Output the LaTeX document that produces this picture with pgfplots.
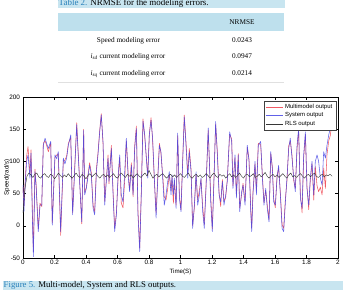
\documentclass[border=0pt]{standalone}
\usepackage{fontspec}
\setmainfont{Liberation Serif}
\setsansfont{Liberation Sans}
\usepackage{pgfplots}
\pgfplotsset{compat=1.18}
\usepackage{pgfplotstable}

\definecolor{capband}{RGB}{200,229,240}
\definecolor{capblue}{RGB}{40,128,186}
\definecolor{hdrband}{RGB}{190,224,237}
\definecolor{mmred}{RGB}{240,90,100}
\definecolor{sysblue}{RGB}{70,70,228}
\definecolor{rlsgray}{RGB}{55,55,55}

% time, system output, multi-model output (rad/s)
\pgfplotstableread{
t sys mm
0.000 63 60
0.006 22 30
0.015 70 75
0.023 100 108
0.032 110 123
0.044 74 80
0.051 113 118
0.061 -4 5
0.066 -48 -40
0.076 84 88
0.083 63 66
0.097 -9 -5
0.108 32 35
0.119 32 30
0.129 125 128
0.140 136 132
0.150 128 125
0.161 120 115
0.176 131 128
0.186 1 5
0.203 110 106
0.214 104 110
0.224 115 112
0.239 -9 -15
0.256 105 100
0.266 96 102
0.277 105 108
0.288 125 128
0.303 141 137
0.315 17 20
0.326 74 78
0.341 157 160
0.356 84 88
0.373 6 3
0.385 148 150
0.392 48 52
0.402 58 60
0.423 94 98
0.434 79 82
0.445 27 32
0.455 17 22
0.466 84 88
0.476 110 113
0.487 146 148
0.497 172 174
0.508 131 128
0.519 32 38
0.529 69 72
0.540 105 110
0.546 69 65
0.561 120 125
0.572 48 52
0.582 -9 -4
0.593 17 20
0.603 74 70
0.614 110 106
0.624 48 35
0.635 37 28
0.646 84 72
0.656 136 132
0.667 79 84
0.677 53 56
0.688 94 98
0.699 48 45
0.709 120 124
0.720 151 155
0.730 17 24
0.741 -40 -35
0.751 48 52
0.762 162 166
0.773 141 138
0.792 74 78
0.802 141 143
0.813 164 168
0.823 136 132
0.834 74 70
0.845 12 20
0.855 69 72
0.866 125 128
0.876 115 112
0.887 74 78
0.897 32 45
0.908 48 40
0.919 69 58
0.929 84 80
0.940 48 55
0.946 79 75
0.955 48 35
0.961 74 70
0.972 27 32
0.982 144 140
0.993 43 48
1.003 22 25
1.014 100 104
1.024 169 172
1.035 125 130
1.046 74 80
1.056 115 120
1.067 84 88
1.077 -4 0
1.088 32 28
1.099 84 80
1.109 32 40
1.120 48 55
1.130 74 72
1.141 22 30
1.151 -4 2
1.162 58 62
1.176 152 148
1.192 37 45
1.202 -9 -5
1.213 74 78
1.223 162 158
1.234 110 115
1.245 48 52
1.255 37 30
1.266 69 72
1.276 32 38
1.287 48 44
1.297 69 72
1.312 146 142
1.325 131 135
1.333 58 62
1.346 110 106
1.355 43 48
1.367 110 112
1.376 22 28
1.388 53 48
1.397 63 66
1.410 32 38
1.424 125 122
1.435 100 104
1.446 22 26
1.452 -9 -4
1.460 48 52
1.473 100 96
1.482 48 54
1.494 125 128
1.509 131 126
1.520 74 78
1.530 32 36
1.541 58 55
1.551 27 32
1.562 6 10
1.573 115 112
1.583 89 92
1.592 37 42
1.602 32 28
1.613 74 78
1.623 94 90
1.634 48 52
1.645 -4 2
1.655 -9 -4
1.666 37 42
1.676 74 70
1.687 120 124
1.697 136 132
1.708 105 110
1.719 74 70
1.729 53 58
1.740 125 120
1.750 151 148
1.761 43 50
1.772 27 20
1.782 110 105
1.793 146 142
1.803 58 62
1.814 32 25
1.824 74 70
1.835 100 96
1.846 48 40
1.856 100 92
1.867 110 62
1.877 100 53
1.888 74 60
1.899 63 48
1.909 115 90
1.920 105 58
1.930 125 110
1.941 141 132
1.951 151 140
1.962 172 162
1.972 165 158
}\speedtable

% RLS estimate (rad/s)
\pgfplotstableread{
t rls
0.0000 20
0.0125 58
0.0250 77
0.0375 82
0.0500 79
0.0625 75
0.0750 80
0.0875 82
0.1000 76
0.1125 74
0.1250 79
0.1375 81
0.1500 77
0.1625 75
0.1750 80
0.1875 78
0.2000 73
0.2125 77
0.2250 82
0.2375 78
0.2500 75
0.2625 79
0.2750 76
0.2875 81
0.3000 77
0.3125 74
0.3250 78
0.3375 82
0.3500 77
0.3625 75
0.3750 80
0.3875 77
0.4000 73
0.4125 78
0.4250 81
0.4375 76
0.4500 79
0.4625 82
0.4750 77
0.4875 74
0.5000 78
0.5125 80
0.5250 76
0.5375 79
0.5500 75
0.5625 78
0.5750 81
0.5875 76
0.6000 74
0.6125 79
0.6250 82
0.6375 78
0.6500 75
0.6625 80
0.6750 77
0.6875 79
0.7000 74
0.7125 78
0.7250 81
0.7375 77
0.7500 75
0.7625 79
0.7750 82
0.7875 77
0.8000 86
0.8125 80
0.8250 74
0.8375 78
0.8500 80
0.8625 76
0.8750 79
0.8875 81
0.9000 77
0.9125 74
0.9250 78
0.9375 80
0.9500 76
0.9625 79
0.9750 75
0.9875 78
1.0000 81
1.0125 77
1.0250 75
1.0375 79
1.0500 82
1.0625 76
1.0750 74
1.0875 78
1.1000 80
1.1125 76
1.1250 79
1.1375 75
1.1500 77
1.1625 81
1.1750 78
1.1875 74
1.2000 79
1.2125 82
1.2250 77
1.2375 75
1.2500 80
1.2625 77
1.2750 79
1.2875 74
1.3000 78
1.3125 81
1.3250 76
1.3375 79
1.3500 75
1.3625 78
1.3750 82
1.3875 77
1.4000 74
1.4125 79
1.4250 80
1.4375 76
1.4500 78
1.4625 81
1.4750 75
1.4875 77
1.5000 80
1.5125 76
1.5250 79
1.5375 83
1.5500 77
1.5625 74
1.5750 78
1.5875 80
1.6000 76
1.6125 79
1.6250 75
1.6375 78
1.6500 81
1.6625 77
1.6750 74
1.6875 79
1.7000 82
1.7125 76
1.7250 78
1.7375 75
1.7500 79
1.7625 81
1.7750 77
1.7875 74
1.8000 78
1.8125 80
1.8250 76
1.8375 79
1.8500 82
1.8625 77
1.8750 75
1.8875 78
1.9000 80
1.9125 76
1.9250 79
1.9375 78
1.9500 80
1.9625 77
}\rlstable

\begin{document}
\begin{tikzpicture}
\useasboundingbox (0,0) rectangle (351bp,-290bp);

% ---- Table 2 ----
\fill[capband] (58bp,0bp) rectangle (285bp,-7.5bp);
\node[anchor=base west, inner sep=0pt, font=\fontsize{9}{10}\selectfont]
  at (58.5bp,-5.8bp) {\textcolor{capblue}{Table 2.} NRMSE for the modeling errors.};
\fill[hdrband] (58bp,-13.3bp) rectangle (284bp,-30.7bp);
\begin{scope}[every node/.style={font=\fontsize{7.3}{8}\selectfont, inner sep=0pt, anchor=base}]
\node at (242bp,-24.3bp) {NRMSE};
\node at (128.5bp,-42bp) {Speed modeling error};
\node at (242bp,-42bp) {0.0243};
\node at (128bp,-58.6bp) {\textit{i}\textsubscript{\itshape sd} current modeling error};
\node at (242bp,-58.6bp) {0.0947};
\node at (128bp,-75.2bp) {\textit{i}\textsubscript{\itshape sq} current modeling error};
\node at (242bp,-75.2bp) {0.0214};
\end{scope}
\draw[black!12, line width=0.8bp] (58bp,-82bp) -- (284bp,-82bp);

% ---- Speed plot ----
\begin{axis}[
  at={(23bp,-258bp)}, anchor=south west,
  scale only axis, width=315bp, height=161bp,
  xmin=0, xmax=2, ymin=-50, ymax=200,
  xtick={0,0.2,...,2.01}, ytick={-50,0,50,100,150,200},
  xticklabels={0,0.2,0.4,0.6,0.8,1,1.2,1.4,1.6,1.8,2},
  tick align=inside, major tick length=3bp,
  tick style={black, line width=0.4bp},
  axis line style={black, line width=0.5bp},
  /pgf/number format/assume math mode=true,
  tick label style={font=\fontsize{6.4}{7}\selectfont\sffamily},
  xticklabel style={yshift=1bp},
  yticklabel style={xshift=0.5bp},
  xlabel={Time(S)}, ylabel={Speed(rad/s)},
  label style={font=\fontsize{6.2}{7}\selectfont\sffamily},
  xlabel style={at={(axis description cs:0.5,-0.084)}, anchor=center},
  ylabel style={at={(axis description cs:-0.051,0.5)}, anchor=center, rotate=0},
  legend style={at={(1,1)}, anchor=north east, xshift=-2bp, yshift=-4bp,
    font=\fontsize{6}{6.5}\selectfont\sffamily, draw=black!75, line width=0.4bp,
    inner xsep=1.5bp, inner ysep=1bp, row sep=-1.2bp, fill=white},
  legend cell align=left,
  legend image code/.code={\draw[#1] (0bp,0bp) -- (17bp,0bp);},
  every axis plot/.append style={line width=0.55bp, line join=round},
]
\addplot[mmred] table[x=t, y=mm] {\speedtable};
\addlegendentry{Multimodel output}
\addplot[sysblue, opacity=0.85] table[x=t, y=sys] {\speedtable};
\addlegendentry{System output}
\addplot[rlsgray, line width=0.45bp] table[x=t, y=rls] {\rlstable};
\addlegendentry{RLS output}
\end{axis}

% ---- Figure caption ----
\fill[capband] (3bp,-280.7bp) rectangle (343bp,-291bp);
\node[anchor=base west, inner sep=0pt, font=\fontsize{8.8}{10}\selectfont]
  at (3.5bp,-287.3bp) {\textcolor{capblue}{Figure 5.} Multi-model, System and RLS outputs.};
\end{tikzpicture}
\end{document}
